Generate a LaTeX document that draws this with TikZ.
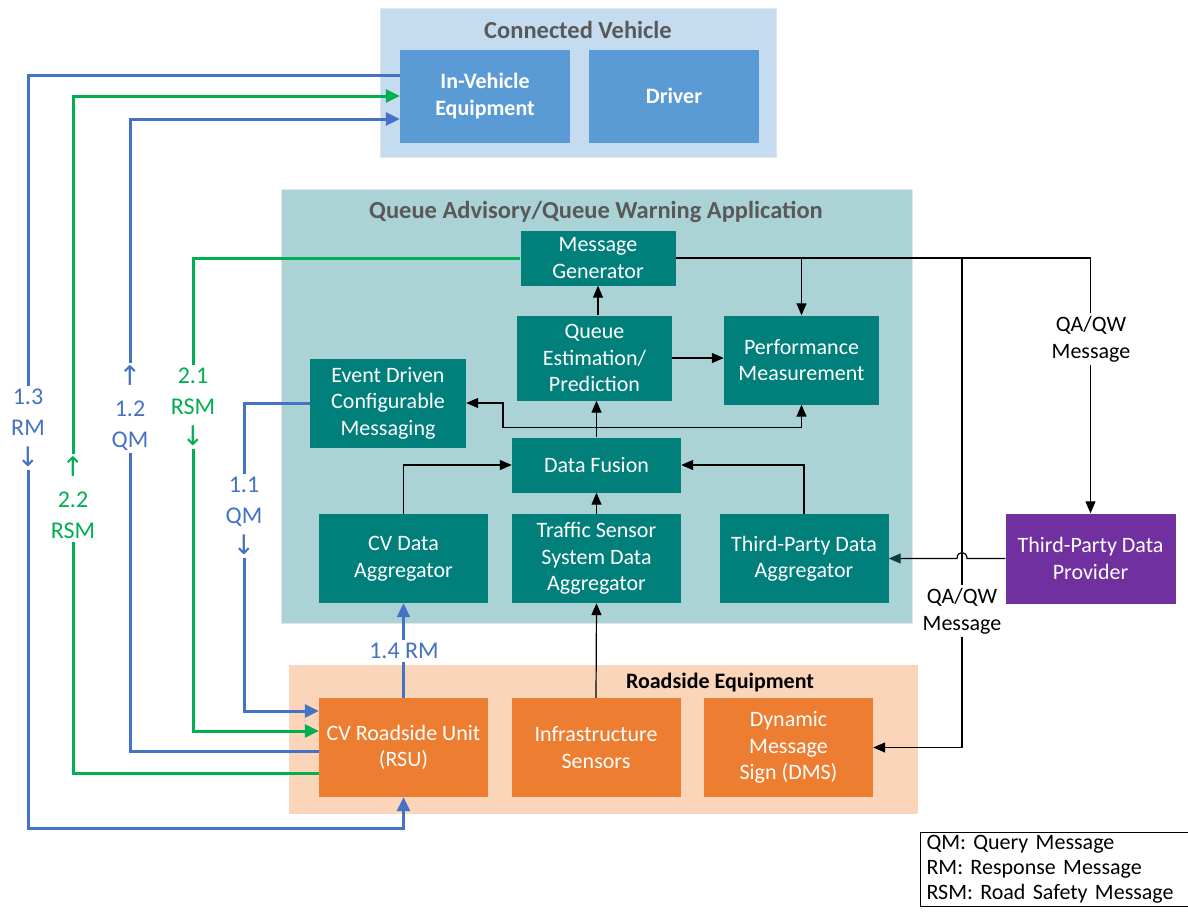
\documentclass[tikz,border=0pt]{standalone}
\usepackage{fontspec}
\setmainfont{Carlito}
\newfontfamily\arrowfont{DejaVu Sans}
\usepackage{xcolor}
\usetikzlibrary{arrows.meta, positioning}

\definecolor{cvpanel}{HTML}{C5DCF0}
\definecolor{cvblue}{HTML}{5B9BD5}
\definecolor{qapanel}{HTML}{ABD2D5}
\definecolor{qateal}{HTML}{007F7B}
\definecolor{rsepanel}{HTML}{FAD5BA}
\definecolor{rseorange}{HTML}{ED7D31}
\definecolor{tppurple}{HTML}{7030A0}
\definecolor{titlegray}{HTML}{595959}
\definecolor{msgblue}{HTML}{4472C4}
\definecolor{msggreen}{HTML}{00B050}
\definecolor{tipteal}{HTML}{0E3F3F}

\newcommand{\boxfont}{\fontsize{22}{26.5}\selectfont}
\newcommand{\lblfont}{\fontsize{24}{31}\selectfont}
\newcommand{\upar}{{\arrowfont\fontsize{27}{31}\selectfont ↑}}
\newcommand{\dnar}{{\arrowfont\fontsize{27}{31}\selectfont ↓}}

\begin{document}
\begin{tikzpicture}[x=1pt, y=-1pt,
    box/.style={inner sep=0pt, align=center, text=white, font=\boxfont},
    cvbox/.style={box, fill=cvblue, font=\boxfont\bfseries, minimum width=170, minimum height=93},
    qabox/.style={box, fill=qateal},
    aggbox/.style={qabox, minimum width=169, minimum height=89},
    rsebox/.style={box, fill=rseorange, minimum width=169, minimum height=99},
    paneltitle/.style={font=\fontsize{24.5}{29}\selectfont\bfseries, text=titlegray},
    wirelabel/.style={fill=white, align=center, font=\lblfont, inner sep=3pt},
    msglabel/.style={fill=white, align=center, font=\boxfont, inner sep=3pt},
    flow/.style={draw=black, line width=1.2pt, -{Triangle[length=12pt,width=10pt]}},
    bluewire/.style={draw=msgblue, line width=3pt},
    greenwire/.style={draw=msggreen, line width=3pt},
    bigtip/.style={-{Triangle[length=14pt,width=13pt]}}]

    % =================================================================
    % PAGE AND PANELS
    % =================================================================
    \fill[white] (0,0) rectangle (1188,911);
    \useasboundingbox (0,0) rectangle (1188,911);

    \fill[cvpanel, draw=black!10, line width=0.8pt] (380,8) rectangle (776,157);
    \fill[qapanel, draw=black!10, line width=0.8pt] (281,189) rectangle (912,623);
    \fill[rsepanel] (289,665) rectangle (918,814);

    \node[paneltitle] (cvtitle) at (578,30) {Connected Vehicle};
    \node[paneltitle] (qatitle) at (596,212) {Queue Advisory/Queue Warning Application};
    \node[font=\fontsize{22}{26}\selectfont\bfseries] (rsetitle) at (720,682) {Roadside Equipment};

    % =================================================================
    % BOXES
    % =================================================================
    % Connected vehicle
    \node[cvbox] (ive) at (485,96) {In-Vehicle\\Equipment};
    \node[cvbox] (driver) at (674,96) {Driver};

    % Queue advisory / queue warning application
    \node[qabox, minimum width=155, minimum height=55] (msggen) at (598,258) {Message\\Generator};
    \node[qabox, minimum width=155, minimum height=85] (qep) at (594.5,358) {Queue\\Estimation/\\Prediction};
    \node[qabox, minimum width=155, minimum height=89] (perf) at (801.5,360) {Performance\\Measurement};
    \node[qabox, minimum width=156, minimum height=89] (edcm) at (388,403) {Event Driven\\Configurable\\Messaging};
    \node[qabox, minimum width=169, minimum height=55] (fusion) at (596.5,465) {Data Fusion};
    \node[aggbox] (cvagg) at (403.5,558.5) {CV Data\\Aggregator};
    \node[aggbox] (tsagg) at (596.5,558.5) {Traffic Sensor\\System Data\\Aggregator};
    \node[aggbox] (tpagg) at (804,558.5) {Third-Party Data\\Aggregator};

    % Outside provider
    \node[box, fill=tppurple, minimum width=170, minimum height=90] (tpprov) at (1090.5,558.5) {Third-Party Data\\Provider};

    % Roadside equipment
    \node[rsebox] (rsu) at (403.5,747.5) {CV Roadside Unit\\(RSU)};
    \node[rsebox] (infra) at (596,747.5) {Infrastructure\\Sensors};
    \node[rsebox] (dms) at (788.5,747.5) {Dynamic\\Message\\Sign (DMS)};

    % =================================================================
    % BLACK DATA FLOWS
    % =================================================================
    \coordinate (qabr) at (962,258);
    \coordinate (fsplit) at ([yshift=10]fusion.north);
    \coordinate (edbend) at (503,0);

    \draw[flow] (msggen.east) -| (tpprov.north);
    \draw[flow] (perf.north |- msggen.east) -- (perf.north);
    \draw[flow] (qabr) |- (dms.east);

    \draw[flow] (qep.north -| msggen.south) -- (msggen.south);
    \draw[flow] (qep.east) -- (qep.east -| perf.west);
    \draw[flow] (fusion.north) -- (fusion.north |- qep.south);
    \draw[flow] (fsplit) -| (edbend |- edcm.east) -- (edcm.east);
    \draw[flow] (fsplit) -| (perf.south);

    \draw[flow] (cvagg.north) |- (fusion.west);
    \draw[flow] (tpagg.north) |- (fusion.east);
    \draw[flow] (tsagg.north) -- (fusion.south);
    \draw[flow] (infra.north) -- (tsagg.south);

    % line hops over the branch to the DMS
    \coordinate (hopR) at ([xshift=5]qabr |- tpprov.west);
    \coordinate (hopL) at ([xshift=-5]qabr |- tpprov.west);
    \draw[flow, -{Triangle[length=12pt,width=10pt,color=tipteal]}] (tpprov.west) -- (hopR)
        .. controls ([yshift=8]hopR) and ([yshift=8]hopL) .. (hopL) -- (tpagg.east);

    \node[msglabel] (qamsg1) at (1091,339) {QA/QW\\Message};
    \node[msglabel] (qamsg2) at (962,611) {QA/QW\\Message};

    % =================================================================
    % MESSAGES BETWEEN VEHICLE AND RSU
    % =================================================================
    \draw[bluewire, bigtip] ([yshift=21]ive.west) -| (28,828) -| (rsu.south);
    \draw[greenwire, bigtip] ([yshift=-26]rsu.west) -| (73,96) -- (ive.west);
    \draw[bluewire, bigtip] ([yshift=-3.5]rsu.west) -| (130,119) -- ([yshift=-23]ive.west);
    \draw[greenwire, bigtip] (msggen.west) -| (193,731) -- ([yshift=16.5]rsu.west);
    \draw[bluewire, bigtip] (edcm.west) -| (244,711) -- ([yshift=36.5]rsu.west);
    \draw[bluewire, line width=2.2pt, bigtip] (rsu.north) -- (cvagg.south);

    \node[wirelabel, text=msgblue] (m13) at (28,428) {1.3\\RM\\\dnar};
    \node[wirelabel, text=msggreen] (m22) at (73,498) {\upar\\2.2\\RSM};
    \node[wirelabel, text=msgblue] (m12) at (130,408) {\upar\\1.2\\QM};
    \node[wirelabel, text=msggreen] (m21) at (193,407) {2.1\\RSM\\\dnar};
    \node[wirelabel, text=msgblue] (m11) at (244,516) {1.1\\QM\\\dnar};
    \node[wirelabel, text=msgblue] (m14) at (404,651) {1.4 RM};

    % =================================================================
    % KEY
    % =================================================================
    \node[draw=black, line width=1pt, anchor=north west, align=left, text width=256,
          inner xsep=6pt, inner ysep=3pt, font=\fontsize{22}{25}\selectfont] (key) at (920,832)
        {QM: Query Message\\RM: Response Message\\RSM: Road Safety Message};

\end{tikzpicture}
\end{document}
